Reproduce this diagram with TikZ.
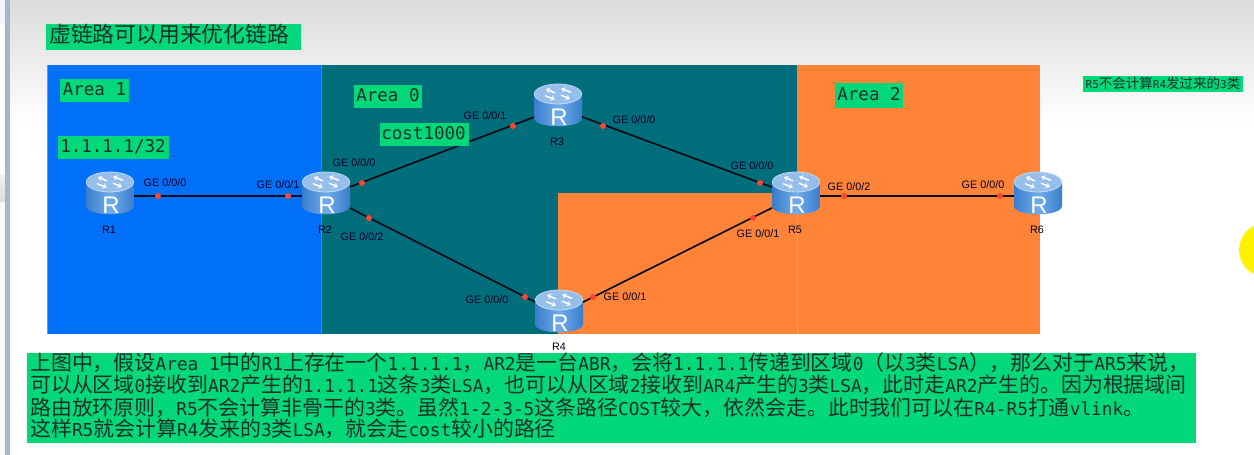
\documentclass[tikz,border=0pt]{standalone}
\usepackage{fontspec}
\setmainfont{Liberation Sans}
\newfontfamily\cjkf{Noto Sans CJK SC}
\newfontfamily\monof{DejaVu Sans Mono}
\usetikzlibrary{arrows.meta}
\definecolor{boxgreen}{RGB}{0,216,122}
\definecolor{areablue}{RGB}{0,112,248}
\definecolor{areateal}{RGB}{0,109,123}
\definecolor{areaorange}{RGB}{255,132,56}
\definecolor{inkdark}{RGB}{28,48,42}
\definecolor{portred}{RGB}{250,70,50}
\definecolor{linkdark}{RGB}{10,12,24}
\definecolor{rside}{RGB}{58,125,205}
\definecolor{rmid}{RGB}{112,172,235}
\definecolor{rtop}{RGB}{150,190,235}
\definecolor{rrim}{RGB}{190,218,245}
\definecolor{stripcol}{RGB}{165,181,204}
\newcommand{\cj}[1]{{\cjkf\fontsize{20.9}{24}\selectfont #1}}
\newcommand{\sj}[1]{{\cjkf\fontsize{13.5}{16}\selectfont #1}}
\tikzset{
  x=1pt,y=-1pt,
  monolabel/.style={font=\monof\fontsize{17.5}{20}\selectfont,text=inkdark,inner sep=0pt,anchor=center},
  bodyline/.style={font=\monof\fontsize{17.8}{20}\selectfont,text=inkdark,inner sep=0pt,anchor=base west},
  portlabel/.style={font=\fontsize{10.8}{12}\selectfont,text=black!85!blue,inner sep=0pt},
  rname/.style={font=\fontsize{10.8}{12}\selectfont,text=black!85!blue,inner sep=0pt},
  portdot/.style={circle,fill=portred,draw=none,minimum size=6pt,inner sep=0pt},
  link/.style={draw=linkdark,line width=1.7pt},
  routerbox/.style={rectangle,draw=none,minimum width=48pt,minimum height=34pt,inner sep=0pt,outer sep=0pt},
  rarrow/.style={draw=white,line width=1.5pt,-{Stealth[length=4pt,width=5.5pt]}}
}
\newcommand{\routerat}[3]{%
  \node[routerbox] (#1) at (#2,#3+3) {};
  \begin{scope}[shift={(#2,#3)}]
    \shade[left color=rside,right color=rside,middle color=rmid]
      (-24,-10) -- (-24,13) .. controls (-24,24) and (24,24) .. (24,13) -- (24,-10) -- cycle;
    \fill[rtop,draw=rrim,line width=.8pt] (0,-11) ellipse [x radius=23.6pt,y radius=10pt];
    \begin{scope}[shift={(0,-11)},yscale=.55]
      \draw[rarrow] (-3,-2) -- (-12,-9);
      \draw[rarrow] (-13,3) -- (-3,10);
      \draw[rarrow] (3,2) -- (12,9);
      \draw[rarrow] (13,-3) -- (3,-10);
    \end{scope}
    \node[inner sep=0pt,text=white,font=\fontsize{24}{26}\selectfont] (#1label) at (1,12) {R};
  \end{scope}}
\begin{document}
\begin{tikzpicture}
\useasboundingbox (0,0) rectangle (1254,455);
\begin{scope}
\clip (0,0) rectangle (1254,455);
\fill[white] (0,0) rectangle (1254,455);
% page backdrop
\shade[top color=black!14,bottom color=white] (0,0) rectangle (1254,125);
\fill[black!12!blue!4!white] (0,0) rectangle (5,24);
\fill[white] (0,24) rectangle (5,175);
\shade[top color=black!6,bottom color=black!14] (0,175) rectangle (5,202);
\fill[black!3] (0,202) rectangle (5,455);
\fill[stripcol] (5,0) rectangle (10,455);
\fill[yellow] (1266,250) circle (27);
% areas
\fill[areablue] (47,65) rectangle (321,334);
\fill[areateal] (321,65) rectangle (797,334);
\fill[areaorange] (797,65) rectangle (1040,334);
\fill[areaorange] (558,193) rectangle (797,334);
\draw[cyan!60!white,opacity=.6,line width=.7pt] (47,65) -- (47,334);
\draw[white,opacity=.25,line width=.6pt] (321,65) -- (321,334);
\draw[white,opacity=.25,line width=.6pt] (797,193) -- (797,334);
% routers
\routerat{R1}{110}{193}
\routerat{R2}{326}{193}
\routerat{R3}{558}{105}
\routerat{R4}{559}{311}
\routerat{R5}{796}{193}
\routerat{R6}{1038}{193}
% links
\draw[link] (R1) -- (R2);
\draw[link] (R2) -- (R3);
\draw[link] (R3) -- (R5);
\draw[link] (R2) -- (R4);
\draw[link] (R4) -- (R5);
\draw[link] (R5) -- (R6);
% port dots
\foreach \nm/\px/\py in {a/158/196,b/288/196,c/362/183,d/369/218,e/513/126,f/603/126,g/760/183,h/753/218,i/525/297,j/593/297,k/844/196,l/1000/196}
  \node[portdot] (dot\nm) at (\px,\py) {};
% port labels
\node[portlabel] (l1) at (165,183) {GE 0/0/0};
\node[portlabel] (l2) at (278,185) {GE 0/0/1};
\node[portlabel] (l3) at (354,163) {GE 0/0/0};
\node[portlabel] (l4) at (362,237) {GE 0/0/2};
\node[portlabel] (l5) at (485,116) {GE 0/0/1};
\node[portlabel] (l6) at (634,120) {GE 0/0/0};
\node[portlabel] (l7) at (752,166) {GE 0/0/0};
\node[portlabel] (l8) at (758,234) {GE 0/0/1};
\node[portlabel] (l9) at (849,187) {GE 0/0/2};
\node[portlabel] (l10) at (983,185) {GE 0/0/0};
\node[portlabel] (l11) at (487,300) {GE 0/0/0};
\node[portlabel] (l12) at (625,297) {GE 0/0/1};
% router names
\node[rname] (n1) at (109,230) {R1};
\node[rname] (n2) at (325,230) {R2};
\node[rname] (n3) at (557,142) {R3};
\node[rname] (n4) at (559,347) {R4};
\node[rname] (n5) at (795,230) {R5};
\node[rname] (n6) at (1037,230) {R6};
% green labels
\fill[boxgreen] (46,24) rectangle (301,50);
\node[inner sep=0pt,anchor=west,text=inkdark,font=\cjkf\fontsize{21.8}{24}\selectfont] (title) at (49,34) {虚链路可以用来优化链路};
\fill[boxgreen] (60,79) rectangle (129,102);
\node[monolabel] (a1) at (94.5,89) {Area 1};
\fill[boxgreen] (58,136) rectangle (169,159);
\node[monolabel] (ip) at (113,146.5) {1.1.1.1/32};
\fill[boxgreen] (354,85) rectangle (422,108);
\node[monolabel] (a0) at (388,95.5) {Area 0};
\fill[boxgreen] (380,123) rectangle (469,146);
\node[monolabel] (cost) at (423.5,133) {cost1000};
\fill[boxgreen] (835,83) rectangle (903,108);
\node[monolabel] (a2) at (869,94.5) {Area 2};
\fill[boxgreen] (1083,76) rectangle (1243,92);
\node[inner sep=0pt,anchor=center,text=inkdark,font=\monof\fontsize{11}{13}\selectfont] (note) at (1163,83.5) {R5\sj{不会计算}R4\sj{发过来的}3\sj{类}};
% explanation
\fill[boxgreen] (27,353) rectangle (1196,443);
\node[bodyline] (t1) at (30,370) {\cj{上图中，假设}Area 1\cj{中的}R1\cj{上存在一个}1.1.1.1\cj{，}AR2\cj{是一台}ABR\cj{，会将}1.1.1.1\cj{传递到区域}0\cj{（以}3\cj{类}LSA\cj{），那么对于}AR5\cj{来说，}};
\node[bodyline] (t2) at (30,392.5) {\cj{可以从区域}0\cj{接收到}AR2\cj{产生的}1.1.1.1\cj{这条}3\cj{类}LSA\cj{，也可以从区域}2\cj{接收到}AR4\cj{产生的}3\cj{类}LSA\cj{，此时走}AR2\cj{产生的。因为根据域间}};
\node[bodyline] (t3) at (30,415) {\cj{路由放环原则，}R5\cj{不会计算非骨干的}3\cj{类。虽然}1-2-3-5\cj{这条路径}COST\cj{较大，依然会走。此时我们可以在}R4-R5\cj{打通}vlink\cj{。}};
\node[bodyline] (t4) at (30,436.5) {\cj{这样}R5\cj{就会计算}R4\cj{发来的}3\cj{类}LSA\cj{，就会走}cost\cj{较小的路径}};
\end{scope}
\end{tikzpicture}
\end{document}
